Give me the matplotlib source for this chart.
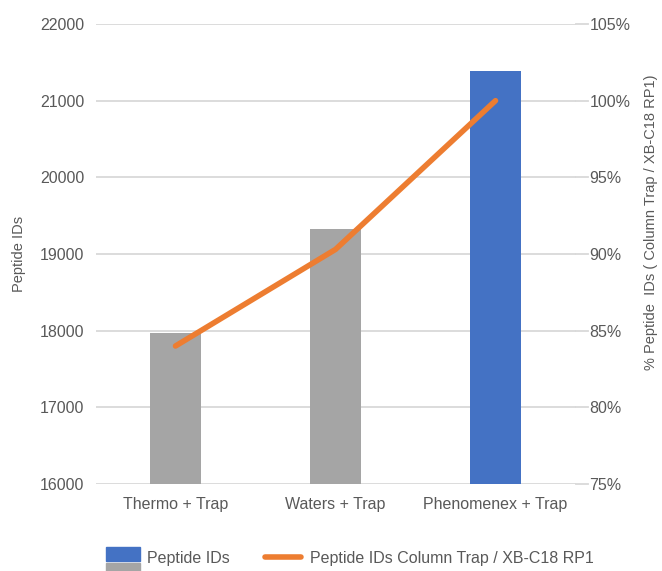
import matplotlib.pyplot as plt
from matplotlib.patches import Rectangle
from matplotlib.lines import Line2D
from matplotlib.ticker import FuncFormatter

categories = ['Thermo + Trap', 'Waters + Trap', 'Phenomenex + Trap']
peptide_ids = [17970, 19330, 21390]
ratio_pct = [84.0, 90.3, 100.0]
bar_colors = ['#A5A5A5', '#A5A5A5', '#4472C4']

TXT = '#595959'
GRID = '#D9D9D9'

plt.rcParams.update({
    'font.family': ['Liberation Sans', 'DejaVu Sans'],
    'font.size': 11.5,
    'text.color': TXT,
    'axes.labelcolor': TXT,
    'xtick.color': TXT,
    'ytick.color': TXT,
})

W, H = 662, 571
fig = plt.figure(figsize=(W / 100, H / 100), dpi=100)
ax = fig.add_axes([95.5 / W, 1 - 484 / H, 480 / W, 460 / H])

x = list(range(len(categories)))
ax.bar(x, peptide_ids, width=0.32, color=bar_colors, zorder=2)
ax.set_xlim(-0.5, 2.5)
ax.set_ylim(16000, 22000)
ax.set_yticks(range(16000, 22001, 1000))
ax.set_xticks(x)
ax.set_xticklabels(categories)
ax.grid(axis='y', color=GRID, lw=1.3, zorder=0)
for s in ax.spines.values():
    s.set_visible(False)
ax.tick_params(axis='both', length=0, pad=8, labelcolor=TXT)
ax.tick_params(axis='x', pad=9)
ax.set_ylabel('Peptide IDs', fontsize=10.5)
ax.yaxis.set_label_coords(-70 / 480, 0.5)

ax2 = ax.twinx()
ax2.plot(x, ratio_pct, color='#ED7D31', lw=4, solid_capstyle='round', zorder=3)
ax2.set_ylim(75, 105)
ax2.set_yticks(range(75, 106, 5))
ax2.yaxis.set_major_formatter(FuncFormatter(lambda v, p: f'{v:.0f}%'))
for s in ax2.spines.values():
    s.set_visible(False)
ax2.tick_params(axis='y', length=0, pad=10, labelcolor=TXT)
# short gridline stubs past the plot on the right
for v in range(75, 106, 5):
    ax2.plot([2.5, 2.5 + 12 / 160], [v, v], color=GRID, lw=1.3, clip_on=False)
ax2.set_ylabel('% Peptide  IDs ( Column Trap / XB-C18 RP1)', fontsize=10.5)
ax2.yaxis.set_label_coords(1 + 68 / 480, 0.5 + 32 / 460)

# legend drawn on figure
def px(xp, yp):
    return xp / W, 1 - yp / H

fig.add_artist(Rectangle(px(106, 560.7), 34 / W, 13.4 / H, transform=fig.transFigure,
                         color='#4472C4'))
fig.add_artist(Rectangle(px(106, 574), 34 / W, 10.7 / H, transform=fig.transFigure,
                         color='#A5A5A5'))
fig.text(*px(147, 559), 'Peptide IDs', va='center', ha='left', fontsize=11.5)
fig.add_artist(Line2D([265 / W, 301 / W], [1 - 557 / H, 1 - 557 / H], transform=fig.transFigure,
                      color='#ED7D31', lw=4, solid_capstyle='round'))
fig.text(*px(310, 559), 'Peptide IDs Column Trap / XB-C18 RP1', va='center', ha='left',
         fontsize=11.5)

fig.savefig('out.png', dpi=100)
